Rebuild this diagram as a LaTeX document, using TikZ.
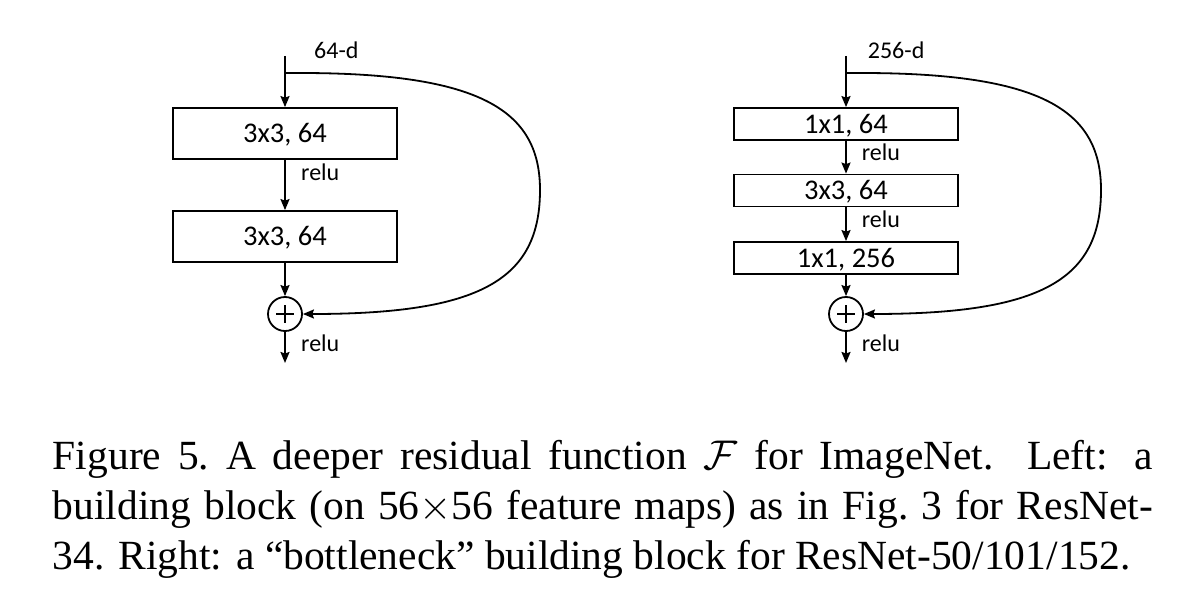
\RequirePackage{fix-cm}
\documentclass[tikz,border=0pt]{standalone}
\usepackage{fontspec}
\setmainfont{Liberation Serif}
\newfontfamily\diagfont{Carlito}
\usetikzlibrary{arrows.meta}
\tikzset{
  conn/.style={line width=1.8pt,-{Stealth[length=11pt,width=9pt,inset=1.5pt]}},
  plainline/.style={line width=1.8pt},
  bigbox/.style={draw,line width=1.8pt,minimum width=224pt,minimum height=51pt,inner sep=0pt,
    font=\diagfont\fontsize{28.5}{32}\selectfont,text height=18pt,text depth=0pt},
  smallbox/.style={bigbox,minimum height=32pt},
  addnode/.style={draw,circle,line width=1.8pt,minimum size=34pt,inner sep=0pt},
  lbl/.style={anchor=base west,inner sep=0pt,font=\diagfont\fontsize{24}{28}\selectfont},
  capline/.style={anchor=base west,inner sep=0pt,font=\fontsize{41.5}{50}\selectfont},
}
\begin{document}
\begin{tikzpicture}[x=1pt,y=-1pt]
\useasboundingbox[fill=white] (0,0) rectangle (1185,610);

% ---------- left block ----------
\coordinate (lin) at (285,56);
\coordinate (lsplit) at (285,73);
\coordinate (lbend) at (540,190);
\coordinate (lout) at (285,363);
\node[bigbox] (lb1) at (285,133.5) {3x3, 64};
\node[bigbox] (lb2) at (285,236.5) {3x3, 64};
\node[addnode] (lp) at (285,314) {};
\draw[plainline] (lp.center) ++(-9,0) -- ++(18,0);
\draw[plainline] (lp.center) ++(0,-9) -- ++(0,18);
\draw[conn] (lin) -- (lb1.north);
\draw[conn] (lb1.south) -- (lb2.north);
\draw[conn] (lb2.south) -- (lp.north);
\draw[conn] (lp.south) -- (lout);
\draw[conn] (lsplit) -- ++(15,0) .. controls +(180,0) and +(0,-80) .. (lbend)
  .. controls +(0,90) and +(177,0) .. (lp.east);
\node[lbl] (ldim) at (314,59) {64-d};
\node[lbl] (lr1) at (301,180.7) {relu};
\node[lbl] (lr2) at (301,351.7) {relu};

% ---------- right block ----------
\coordinate (rin) at (846,56);
\coordinate (rsplit) at (846,73);
\coordinate (rbend) at (1101,190);
\coordinate (rout) at (846,363);
\node[smallbox] (rb1) at (846,124) {1x1, 64};
\node[smallbox] (rb2) at (846,190.5) {3x3, 64};
\node[smallbox] (rb3) at (846,258) {1x1, 256};
\node[addnode] (rp) at (846,314) {};
\draw[plainline] (rp.center) ++(-9,0) -- ++(18,0);
\draw[plainline] (rp.center) ++(0,-9) -- ++(0,18);
\draw[conn] (rin) -- (rb1.north);
\draw[conn] (rb1.south) -- (rb2.north);
\draw[conn] (rb2.south) -- (rb3.north);
\draw[conn] (rb3.south) -- (rp.north);
\draw[conn] (rp.south) -- (rout);
\draw[conn] (rsplit) -- ++(15,0) .. controls +(180,0) and +(0,-80) .. (rbend)
  .. controls +(0,90) and +(177,0) .. (rp.east);
\node[lbl] (rdim) at (867.7,59) {256-d};
\node[lbl] (rr1) at (861.7,160.7) {relu};
\node[lbl] (rr2) at (861.7,227.7) {relu};
\node[lbl] (rr3) at (861.7,351.7) {relu};

% ---------- caption ----------
\node[capline] (cap1) at (52.7,469) {\makebox[1100pt][s]{Figure 5.\ A deeper residual function $\mathcal{F}$ for ImageNet. Left: a}};
\node[capline] (cap2) at (52.7,519) {\makebox[1100pt][s]{building block (on 56$\times$56 feature maps) as in Fig.\ 3 for ResNet-}};
\node[capline] (cap3) at (52.7,569) {34. Right: a “bottleneck” building block for ResNet-50/101/152.};
\end{tikzpicture}
\end{document}
